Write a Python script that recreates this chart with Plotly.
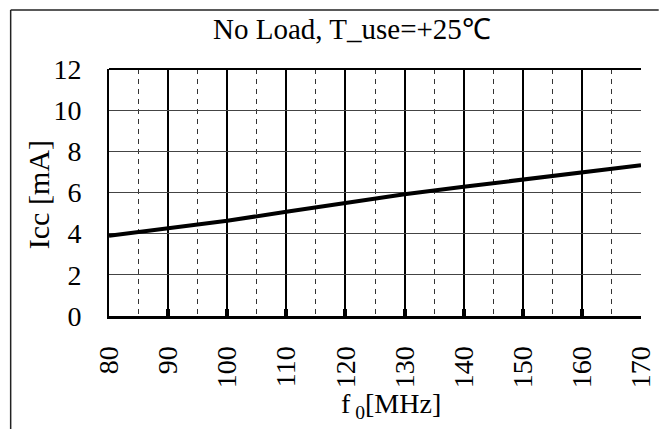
import plotly.graph_objects as go

freq_mhz = [80, 90, 100, 110, 120, 130, 140, 150, 160, 170]
icc_ma = [3.9, 4.27, 4.63, 5.06, 5.5, 5.92, 6.28, 6.63, 6.98, 7.32]
y_ticks = [0, 2, 4, 6, 8, 10, 12]
x_ticks = [80, 90, 100, 110, 120, 130, 140, 150, 160, 170]

W, H = 668, 429
L, R, T, B = 109, 18, 69, 113
pw, ph = W - L - R, H - T - B

def px(x):
    return (x - L) / pw

def py(y):
    return (H - B - y) / ph

FONT = "Liberation Serif"

fig = go.Figure()
fig.add_trace(go.Scatter(x=freq_mhz, y=icc_ma, mode="lines",
                         line=dict(color="black", width=4), showlegend=False))

fig.update_layout(
    width=W, height=H,
    margin=dict(l=L, r=R, t=T, b=B),
    paper_bgcolor="white", plot_bgcolor="white",
    font=dict(family=FONT, size=28, color="black"),
    xaxis=dict(range=[80, 170], tickvals=x_ticks, ticktext=[str(v) for v in x_ticks],
               tickangle=-90, showgrid=True, gridcolor="black", gridwidth=2,
               showline=True, linecolor="black", linewidth=3,
               ticks="inside", ticklen=7, tickwidth=4, tickcolor="black",
               ticklabelstandoff=16,
               tickfont=dict(family=FONT, size=28),
               minor=dict(dtick=5, tick0=80, showgrid=True, gridcolor="#333",
                          gridwidth=1, griddash="5px,5px", ticks=""),
               zeroline=False, mirror=False),
    yaxis=dict(range=[0, 12], tickvals=y_ticks, showgrid=True, gridcolor="#444",
               gridwidth=1, showline=True, linecolor="black", linewidth=2,
               tickfont=dict(family=FONT, size=28),
               ticks="", ticklabelstandoff=20, zeroline=False),
)

# outer frame (left and top edges; the rest falls outside the picture)
fig.add_shape(type="line", xref="paper", yref="paper",
              x0=px(9), x1=px(9), y0=py(429), y1=py(10),
              line=dict(color="#222", width=1.5))
fig.add_shape(type="line", xref="paper", yref="paper",
              x0=px(9), x1=px(668), y0=py(10), y1=py(10),
              line=dict(color="#222", width=1.5))
# top edge of plot
fig.add_shape(type="line", xref="paper", yref="paper", x0=0, x1=1, y0=1, y1=1,
              line=dict(color="black", width=2))

fig.add_annotation(text="No Load, T_use=+25℃", xref="paper", yref="paper",
                   x=px(356), y=py(29), xanchor="center", yanchor="middle",
                   showarrow=False, font=dict(family=FONT, size=29))
fig.add_annotation(text="Icc [mA]", xref="paper", yref="paper",
                   x=px(37), y=py(195), xanchor="center", yanchor="middle",
                   showarrow=False, textangle=-90,
                   font=dict(family=FONT, size=30))
fig.add_annotation(text="f<sub> 0</sub>[MHz]", xref="paper", yref="paper",
                   x=px(396), y=py(405), xanchor="center", yanchor="middle",
                   showarrow=False, font=dict(family=FONT, size=28))

fig.write_html("out.html")
